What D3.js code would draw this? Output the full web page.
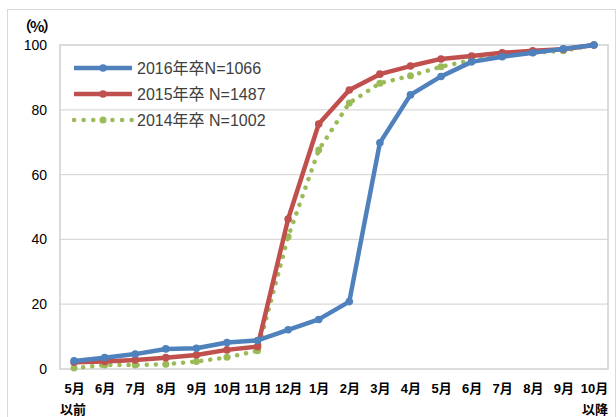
<!DOCTYPE html>
<html>
<head>
<meta charset="utf-8">
<script src="https://cdn.jsdelivr.net/npm/d3@7"></script>
<style>
  body { margin: 0; background: #fff; }
  text { font-family: "Liberation Sans", Arial, "Noto Sans CJK JP", sans-serif; }
</style>
</head>
<body>
<svg id="chart"></svg>
<script>
const width = 616;
const height = 417;
const margin = {top: 45, right: 8, bottom: 48, left: 60};

// month labels (second line only on first / last)
const months = ['5月', '6月', '7月', '8月', '9月', '10月', '11月', '12月', '1月', '2月',
                '3月', '4月', '5月', '6月', '7月', '8月', '9月', '10月'];
const subLabels = ['以前', '', '', '', '', '', '', '', '', '', '', '', '', '', '', '', '', '以降'];
const yTicks = [0, 20, 40, 60, 80, 100];

const seriesNames = ['2016年卒N=1066', '2015年卒 N=1487', '2014年卒 N=1002'];
const values2016 = [2.5, 3.5, 4.6, 6.2, 6.4, 8.2, 8.8, 12.1, 15.3, 20.8, 69.8, 84.6, 90.3, 94.8, 96.4, 97.6, 98.8, 100];
const values2015 = [2.1, 2.3, 2.8, 3.5, 4.3, 5.9, 6.9, 46.3, 75.6, 86.1, 91.0, 93.5, 95.7, 96.6, 97.6, 98.2, 98.7, 100];
const values2014 = [0.3, 1.2, 1.2, 1.5, 2.3, 3.6, 5.6, 40.8, 67.6, 82.1, 88.2, 90.5, 93.3, 95.3, 96.6, 97.6, 98.2, 100];

const colors = ['#4F81BD', '#C0504D', '#9BBB59'];

const svg = d3.select('#chart').attr('width', width).attr('height', height);

// outer frame
svg.append('rect')
  .attr('x', 7.5).attr('y', 9.5)
  .attr('width', width - 8).attr('height', height - 9)
  .attr('fill', 'none').attr('stroke', '#d9d9d9');

const x = d3.scalePoint()
  .domain(d3.range(months.length))
  .range([margin.left, width - margin.right])
  .padding(0.46);

const y = d3.scaleLinear()
  .domain([0, 100])
  .range([height - margin.bottom, margin.top]);

// grid
svg.append('g')
  .selectAll('line').data(yTicks.slice(1, -1))
  .enter().append('line')
  .attr('x1', margin.left).attr('x2', width - margin.right)
  .attr('y1', d => y(d)).attr('y2', d => y(d))
  .attr('stroke', '#d9d9d9').attr('stroke-width', 1.2);

// plot border
svg.append('rect')
  .attr('x', margin.left).attr('y', margin.top)
  .attr('width', width - margin.right - margin.left)
  .attr('height', height - margin.bottom - margin.top)
  .attr('fill', 'none').attr('stroke', '#d0d0d0').attr('stroke-width', 1.5);

// y axis labels
const yAxis = svg.append('g').attr('transform', `translate(${margin.left}, 0)`)
  .call(d3.axisLeft(y).tickValues(yTicks).tickSize(0).tickPadding(13));
yAxis.select('.domain').remove();
yAxis.selectAll('text').attr('font-size', 14).attr('fill', '#000')
  .style('font-family', '"Liberation Sans", Arial, sans-serif');

svg.append('text')
  .attr('x', 17).attr('y', 32)
  .attr('font-size', 15).attr('font-weight', 'bold')
  .style('font-family', '"Noto Sans CJK JP", sans-serif')
  .attr('letter-spacing', -2)
  .text('（%）');

// x axis labels
const xAxis = svg.append('g').attr('transform', `translate(0, ${height - margin.bottom})`)
  .call(d3.axisBottom(x).tickSize(0).tickPadding(15).tickFormat(i => months[i]));
xAxis.select('.domain').remove();
xAxis.selectAll('text').attr('font-size', 13).attr('font-weight', 'bold').attr('fill', '#000');

svg.append('text')
  .attr('x', margin.left).attr('y', height - 3)
  .attr('font-size', 13).attr('font-weight', 'bold').text(subLabels[0]);
svg.append('text')
  .attr('x', width - margin.right).attr('y', height - 3)
  .attr('text-anchor', 'end')
  .attr('font-size', 13).attr('font-weight', 'bold').text(subLabels[subLabels.length - 1]);

const line = d3.line().x((d, i) => x(i)).y(d => y(d));

const series = [values2016, values2015, values2014];

// green at the back, blue on top
[2, 1, 0].forEach(k => {
  const g = svg.append('g');
  const path = g.append('path')
    .datum(series[k])
    .attr('d', line)
    .attr('fill', 'none')
    .attr('stroke', colors[k])
    .attr('stroke-linejoin', 'round');
  if (k === 2) {
    path.attr('stroke-width', 4.5)
      .attr('stroke-linecap', 'round')
      .attr('stroke-dasharray', '0.1 9');
  } else {
    path.attr('stroke-width', 4.5);
  }
  g.selectAll('circle').data(series[k])
    .enter().append('circle')
    .attr('cx', (d, i) => x(i))
    .attr('cy', d => y(d))
    .attr('r', k === 2 ? 3.5 : 3.8)
    .attr('fill', colors[k]);
});

// legend
const legend = svg.append('g');
seriesNames.forEach((name, k) => {
  const ly = 68 + k * 26;
  const item = legend.append('g');
  const seg = item.append('line')
    .attr('x1', 74).attr('x2', 132)
    .attr('y1', ly).attr('y2', ly)
    .attr('stroke', colors[k]).attr('stroke-width', 4.5);
  if (k === 2) {
    seg.attr('stroke-linecap', 'round').attr('stroke-dasharray', '0.1 9.5');
  }
  item.append('circle')
    .attr('cx', 103).attr('cy', ly).attr('r', k === 2 ? 3.5 : 3.8)
    .attr('fill', colors[k]);
  item.append('text')
    .attr('x', 137).attr('y', ly + 6)
    .attr('font-size', 16).attr('fill', '#404040')
    .text(name);
});
</script>
</body>
</html>
